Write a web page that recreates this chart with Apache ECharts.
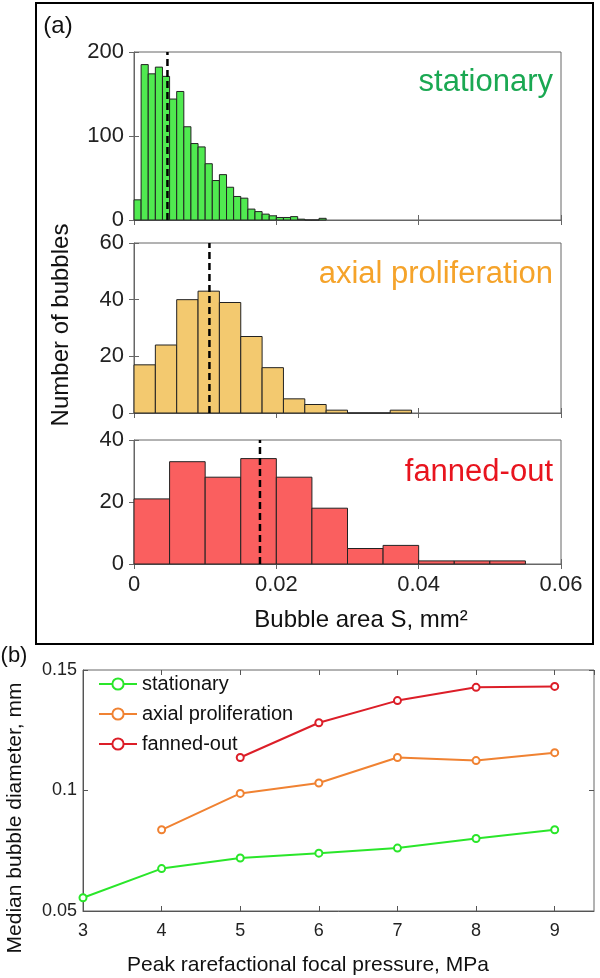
<!DOCTYPE html>
<html><head><meta charset="utf-8">
<script src="https://cdn.jsdelivr.net/npm/echarts@6/dist/echarts.min.js"></script>
<style>html,body{margin:0;padding:0;background:#fff}#chart{width:600px;height:978px}</style>
</head><body><div id="chart"></div>
<script>
// ---------- data: panel (a) histograms ----------
const areaTickLabels = ['0', '0.02', '0.04', '0.06'];
const stationaryBinWidth = 0.001;
const stationaryCounts = [24,185,174,182,171,144,153,111,91,87,67,47,54,39,28,26,13,10,7,5,3,3,4,1,0,0,2];
const axialBinWidth = 0.003;
const axialCounts = [17,24,40,43,39,27,16,5,3,1,0,0,1];
const fannedBinWidth = 0.005;
const fannedCounts = [21,33,28,34,28,18,5,6,1,1,1];
const medianAreas = [0.0047, 0.0106, 0.0177];
const countMax = [200, 60, 40];
const countInterval = [100, 20, 20];
const panelNames = ['stationary', 'axial proliferation', 'fanned-out'];

// ---------- data: panel (b) ----------
const pressures = [3, 4, 5, 6, 7, 8, 9];
const stationaryDiam = [0.0555, 0.0676, 0.0720, 0.0740, 0.0761, 0.0801, 0.0837];
const axialDiam = [null, 0.0837, 0.0988, 0.1031, 0.1137, 0.1124, 0.1157];
const fannedDiam = [null, null, 0.1137, 0.1281, 0.1373, 0.1428, 0.1432];
const diamTickLabels = ['0.05', '0.1', '0.15'];

const FONT = 'Liberation Sans, Arial, Helvetica, sans-serif';
const histFill = ['#50ea50', '#f3c96f', '#fa5f5f'];
const labelColor = ['#1aa852', '#f5a32a', '#e8141e'];
const lineColor = ['#2ae62a', '#f08232', '#dc1e28'];

const grids = [
  {left: 134, top: 52, width: 427, height: 168},
  {left: 134, top: 243, width: 427, height: 170},
  {left: 134, top: 440, width: 427, height: 124},
  {left: 83, top: 670, width: 511, height: 241}
].map(g => Object.assign(g, {show: true, borderColor: '#666', borderWidth: 1, backgroundColor: 'transparent'}));

const xAxes = [], yAxes = [], series = [];
const histData = [
  stationaryCounts.map((c, i) => [i * stationaryBinWidth, (i + 1) * stationaryBinWidth, c]),
  axialCounts.map((c, i) => [i * axialBinWidth, (i + 1) * axialBinWidth, c]),
  fannedCounts.map((c, i) => [i * fannedBinWidth, (i + 1) * fannedBinWidth, c])
];

for (let p = 0; p < 3; p++) {
  xAxes.push({
    type: 'value', gridIndex: p, min: 0, max: 0.06, interval: 0.02, position: 'bottom',
    axisLine: {show: true, lineStyle: {color: '#666', width: 1}},
    axisTick: {show: true, inside: true, length: 5, lineStyle: {color: '#666'}},
    splitLine: {show: false},
    axisLabel: {show: p === 2, fontSize: 22, color: '#222', fontFamily: FONT, margin: 10,
      formatter: v => areaTickLabels[Math.round(v / 0.02)]}
  });
  xAxes.push({
    type: 'value', gridIndex: p, min: 0, max: 0.06, interval: 0.02, position: 'top',
    axisLine: {show: false}, axisLabel: {show: false}, splitLine: {show: false},
    axisTick: {show: true, inside: true, length: 5, lineStyle: {color: '#666'}}
  });
  yAxes.push({
    type: 'value', gridIndex: p, min: 0, max: countMax[p], interval: countInterval[p], position: 'left',
    axisLine: {show: true, lineStyle: {color: '#666', width: 1}},
    axisTick: {show: true, inside: true, length: 5, lineStyle: {color: '#666'}},
    splitLine: {show: false},
    axisLabel: {fontSize: 22, color: '#222', fontFamily: FONT, margin: 10}
  });
  yAxes.push({
    type: 'value', gridIndex: p, min: 0, max: countMax[p], interval: countInterval[p], position: 'right',
    axisLine: {show: false}, axisLabel: {show: false}, splitLine: {show: false},
    axisTick: {show: true, inside: true, length: 5, lineStyle: {color: '#666'}}
  });
  const fill = histFill[p];
  series.push({
    type: 'custom', xAxisIndex: 2 * p, yAxisIndex: 2 * p,
    data: histData[p],
    encode: {x: [0, 1], y: 2},
    renderItem: function (params, api) {
      const a = api.coord([api.value(0), api.value(2)]);
      const b = api.coord([api.value(1), 0]);
      return {
        type: 'rect',
        shape: {x: a[0], y: a[1], width: b[0] - a[0], height: b[1] - a[1]},
        style: {fill: fill, stroke: '#222', lineWidth: 1}
      };
    },
    silent: true, z: 2
  });
  series.push({
    type: 'line', xAxisIndex: 2 * p, yAxisIndex: 2 * p,
    data: [[medianAreas[p], 0], [medianAreas[p], countMax[p]]],
    symbol: 'none', silent: true, z: 5,
    lineStyle: {color: '#000', width: 2.5, type: [7, 4]}
  });
}

xAxes.push({
  type: 'value', gridIndex: 3, min: 3, max: 9.5, interval: 1, position: 'bottom',
  axisLine: {show: true, lineStyle: {color: '#555'}},
  axisTick: {show: true, inside: true, length: 5, lineStyle: {color: '#555'}},
  splitLine: {show: false},
  axisLabel: {fontSize: 18, color: '#222', fontFamily: FONT, margin: 11, showMaxLabel: false,
    formatter: v => (Math.abs(v - Math.round(v)) < 1e-6 ? String(Math.round(v)) : '')}
});
xAxes.push({
  type: 'value', gridIndex: 3, min: 3, max: 9.5, interval: 1, position: 'top',
  axisLine: {show: false}, axisLabel: {show: false}, splitLine: {show: false},
  axisTick: {show: true, inside: true, length: 5, lineStyle: {color: '#555'}}
});
yAxes.push({
  type: 'value', gridIndex: 3, min: 0.05, max: 0.15, interval: 0.05, position: 'left',
  axisLine: {show: true, lineStyle: {color: '#555'}},
  axisTick: {show: true, inside: true, length: 5, lineStyle: {color: '#555'}},
  splitLine: {show: false},
  axisLabel: {fontSize: 18, color: '#222', fontFamily: FONT, margin: 6,
    formatter: v => diamTickLabels[Math.round((v - 0.05) / 0.05)]}
});
yAxes.push({
  type: 'value', gridIndex: 3, min: 0.05, max: 0.15, interval: 0.05, position: 'right',
  axisLine: {show: false}, axisLabel: {show: false}, splitLine: {show: false},
  axisTick: {show: true, inside: true, length: 5, lineStyle: {color: '#555'}}
});

const lineSets = [stationaryDiam, axialDiam, fannedDiam];
for (let k = 0; k < 3; k++) {
  series.push({
    name: panelNames[k], type: 'line', xAxisIndex: 6, yAxisIndex: 6,
    data: pressures.map((x, i) => [x, lineSets[k][i]]).filter(d => d[1] !== null),
    symbol: 'emptyCircle', symbolSize: 7,
    lineStyle: {color: lineColor[k], width: 2},
    itemStyle: {color: lineColor[k], borderWidth: 1.5},
    z: 3
  });
}

const graphics = [
  {type: 'rect', shape: {x: 36, y: 3, width: 557, height: 641},
   style: {fill: 'none', stroke: '#000', lineWidth: 2}, z: 10},
  {type: 'text', x: 58, y: 26, style: {text: '(a)', font: '24px ' + FONT, fill: '#111', align: 'center', verticalAlign: 'middle'}},
  {type: 'text', x: 61, y: 325, rotation: Math.PI / 2,
   style: {text: 'Number of bubbles', font: '24px ' + FONT, fill: '#111', align: 'center', verticalAlign: 'middle'}},
  {type: 'text', x: 361, y: 620, style: {text: 'Bubble area S, mm²', font: '24px ' + FONT, fill: '#111', align: 'center', verticalAlign: 'middle'}},
  {type: 'text', x: 14, y: 656, style: {text: '(b)', font: '22px ' + FONT, fill: '#111', align: 'center', verticalAlign: 'middle'}},
  {type: 'text', x: 15, y: 818, rotation: Math.PI / 2,
   style: {text: 'Median bubble diameter, mm', font: '21px ' + FONT, fill: '#111', align: 'center', verticalAlign: 'middle'}},
  {type: 'text', x: 308, y: 965, style: {text: 'Peak rarefactional focal pressure, MPa', font: '21px ' + FONT, fill: '#111', align: 'center', verticalAlign: 'middle'}}
];
const labelBaselines = [82, 274, 472];
for (let p = 0; p < 3; p++) {
  graphics.push({type: 'text', x: 553, y: labelBaselines[p],
    style: {text: panelNames[p], font: '31px ' + FONT, fill: labelColor[p], align: 'right', verticalAlign: 'middle'}, z: 6});
}

const chart = echarts.init(document.getElementById('chart'), null, {renderer: 'canvas'});
chart.setOption({
  animation: false,
  backgroundColor: '#fff',
  grid: grids,
  xAxis: xAxes,
  yAxis: yAxes,
  legend: {
    left: 93, top: 669, orient: 'vertical', itemWidth: 38, itemHeight: 14, itemGap: 10,
    textStyle: {fontSize: 20, color: '#111', fontFamily: FONT},
    data: panelNames
  },
  graphic: graphics,
  series: series
});
</script></body></html>
